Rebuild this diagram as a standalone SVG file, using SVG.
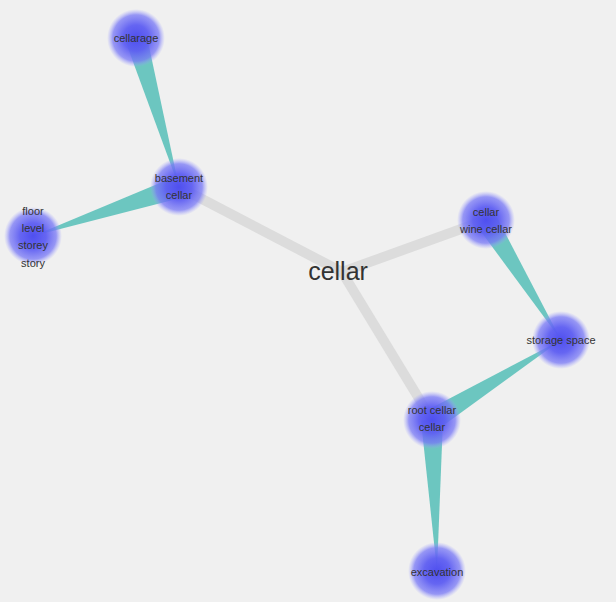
<svg xmlns="http://www.w3.org/2000/svg" width="616" height="602" viewBox="0 0 616 602">
<defs>
<radialGradient id="ng" cx="50%" cy="50%" r="50%">
<stop offset="0" stop-color="#4f4fef"/>
<stop offset="0.45" stop-color="#5e5ef2" stop-opacity="0.95"/>
<stop offset="0.8" stop-color="#7878f6" stop-opacity="0.75"/>
<stop offset="1" stop-color="#a0a0ff" stop-opacity="0"/>
</radialGradient>
<style>
.bg{fill:#f0f0f0}
.g{stroke:#dcdcdc;stroke-width:10;stroke-linecap:butt;fill:none}
.w{fill:#6cc6c0}
.n{fill:url(#ng)}
.t{font-family:"Liberation Sans",Arial,sans-serif;font-size:11px;fill:#333;text-anchor:middle}
.c{font-family:"Liberation Sans",Arial,sans-serif;font-size:25px;fill:#333;text-anchor:middle}
</style>
</defs>
<rect class="bg" x="0" y="0" width="616" height="602"/>
<g id="connectors">
<line class="g" x1="342" y1="272" x2="179" y2="187"/>
<line class="g" x1="342" y1="272" x2="486" y2="220"/>
<line class="g" x1="342" y1="272" x2="432" y2="420"/>
<polygon class="w" points="125.4,41 146.6,35 179,187"/>
<polygon class="w" points="175.5,176.6 182.5,197.4 33,236"/>
<polygon class="w" points="476.7,225.8 495.3,214.2 561,340"/>
<polygon class="w" points="437.8,429.4 426.2,410.7 561,340"/>
<polygon class="w" points="421,420.4 443,419.6 437,571"/>
</g>
<g id="center"><text class="c" x="338" y="280">cellar</text></g>
<g id="n-cellarage"><circle class="n" cx="136" cy="38" r="29"/><text class="t" x="136" y="42">cellarage</text></g>
<g id="n-basement"><circle class="n" cx="179" cy="187" r="29"/><text class="t" x="179" y="182">basement</text><text class="t" x="179" y="199">cellar</text></g>
<g id="n-floor"><circle class="n" cx="33" cy="236" r="29"/><text class="t" x="33" y="215">floor</text><text class="t" x="33" y="232">level</text><text class="t" x="33" y="249">storey</text><text class="t" x="33" y="267">story</text></g>
<g id="n-wine"><circle class="n" cx="486" cy="220" r="29"/><text class="t" x="486" y="216">cellar</text><text class="t" x="486" y="233">wine cellar</text></g>
<g id="n-storage"><circle class="n" cx="561" cy="340" r="29"/><text class="t" x="561" y="344">storage space</text></g>
<g id="n-root"><circle class="n" cx="432" cy="420" r="29"/><text class="t" x="432" y="414">root cellar</text><text class="t" x="432" y="431">cellar</text></g>
<g id="n-excavation"><circle class="n" cx="437" cy="571" r="29"/><text class="t" x="437" y="576">excavation</text></g>
</svg>
